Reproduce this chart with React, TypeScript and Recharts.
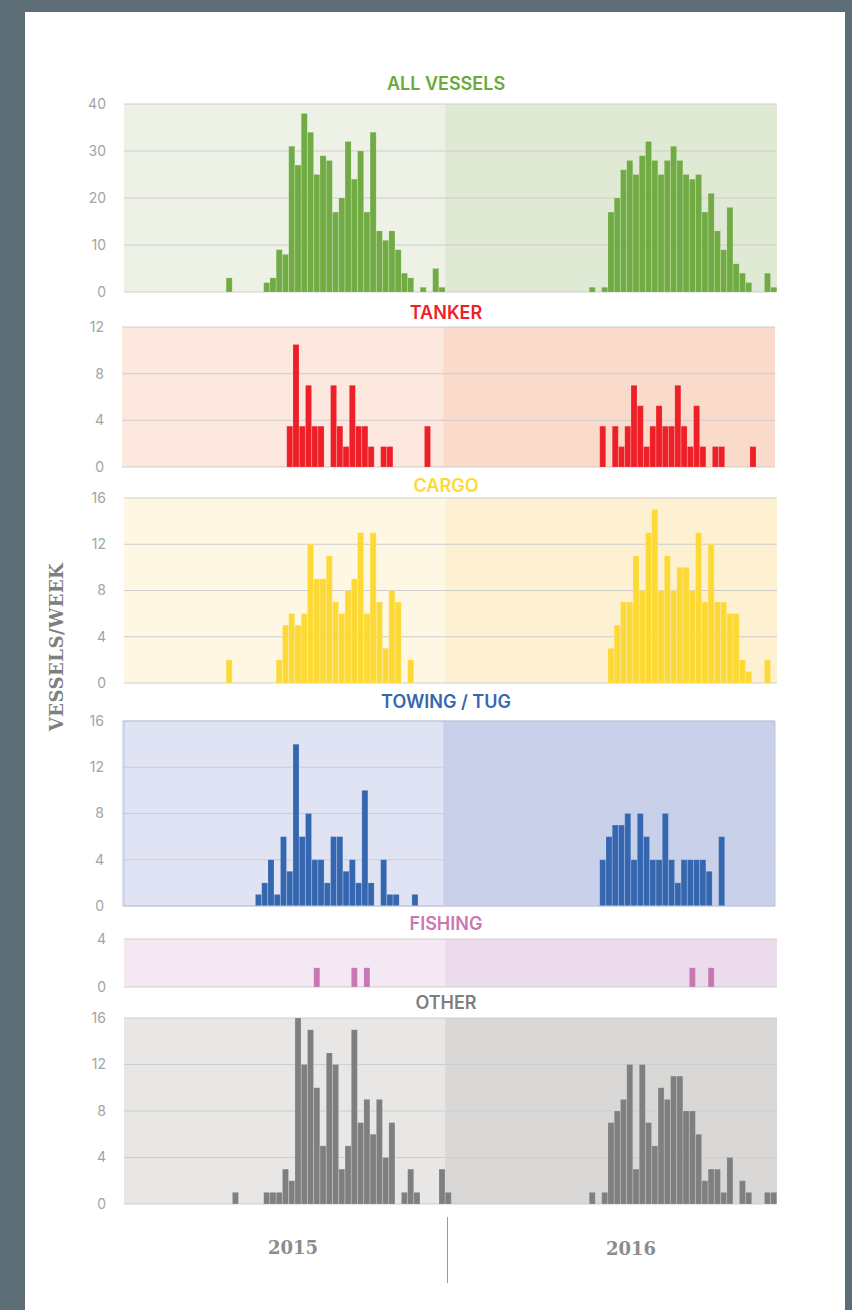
import React from 'react';
import { BarChart, Bar, XAxis, YAxis, CartesianGrid, ReferenceArea } from 'recharts';

// 104 weekly bins: 2015 (weeks 0-51) and 2016 (weeks 52-103)
const WEEKS: number[] = Array.from({ length: 104 }, (_, i) => i);

const ALL_VESSELS = [
  0, 0, 0, 0, 0, 0, 0, 0, 0, 0, 0, 0, 0,
  0, 0, 0, 3, 0, 0, 0, 0, 0, 2, 3, 9, 8,
  31, 27, 38, 34, 25, 29, 28, 17, 20, 32, 24, 30, 17,
  34, 13, 11, 13, 9, 4, 3, 0, 1, 0, 5, 1, 0,
  0, 0, 0, 0, 0, 0, 0, 0, 0, 0, 0, 0, 0,
  0, 0, 0, 0, 0, 0, 0, 0, 0, 1, 0, 1, 17,
  20, 26, 28, 25, 29, 32, 28, 25, 28, 31, 28, 25, 24,
  25, 17, 21, 13, 9, 18, 6, 4, 2, 0, 0, 4, 1,
];

const TANKER = [
  0, 0, 0, 0, 0, 0, 0, 0, 0, 0, 0, 0, 0,
  0, 0, 0, 0, 0, 0, 0, 0, 0, 0, 0, 0, 0,
  3.5, 10.5, 3.5, 7, 3.5, 3.5, 0, 7, 3.5, 1.75, 7, 3.5, 3.5,
  1.75, 0, 1.75, 1.75, 0, 0, 0, 0, 0, 3.5, 0, 0, 0,
  0, 0, 0, 0, 0, 0, 0, 0, 0, 0, 0, 0, 0,
  0, 0, 0, 0, 0, 0, 0, 0, 0, 0, 0, 3.5, 0,
  3.5, 1.75, 3.5, 7, 5.25, 1.75, 3.5, 5.25, 3.5, 3.5, 7, 3.5, 1.75,
  5.25, 1.75, 0, 1.75, 1.75, 0, 0, 0, 0, 1.75, 0, 0, 0,
];

const CARGO = [
  0, 0, 0, 0, 0, 0, 0, 0, 0, 0, 0, 0, 0,
  0, 0, 0, 2, 0, 0, 0, 0, 0, 0, 0, 2, 5,
  6, 5, 6, 12, 9, 9, 11, 7, 6, 8, 9, 13, 6,
  13, 7, 3, 8, 7, 0, 2, 0, 0, 0, 0, 0, 0,
  0, 0, 0, 0, 0, 0, 0, 0, 0, 0, 0, 0, 0,
  0, 0, 0, 0, 0, 0, 0, 0, 0, 0, 0, 0, 3,
  5, 7, 7, 11, 8, 13, 15, 8, 11, 8, 10, 10, 8,
  13, 7, 12, 7, 7, 6, 6, 2, 1, 0, 0, 2, 0,
];

const TOWING = [
  0, 0, 0, 0, 0, 0, 0, 0, 0, 0, 0, 0, 0,
  0, 0, 0, 0, 0, 0, 0, 0, 1, 2, 4, 1, 6,
  3, 14, 6, 8, 4, 4, 2, 6, 6, 3, 4, 2, 10,
  2, 0, 4, 1, 1, 0, 0, 1, 0, 0, 0, 0, 0,
  0, 0, 0, 0, 0, 0, 0, 0, 0, 0, 0, 0, 0,
  0, 0, 0, 0, 0, 0, 0, 0, 0, 0, 0, 4, 6,
  7, 7, 8, 4, 8, 6, 4, 4, 8, 4, 2, 4, 4,
  4, 4, 3, 0, 6, 0, 0, 0, 0, 0, 0, 0, 0,
];

const FISHING = [
  0, 0, 0, 0, 0, 0, 0, 0, 0, 0, 0, 0, 0,
  0, 0, 0, 0, 0, 0, 0, 0, 0, 0, 0, 0, 0,
  0, 0, 0, 0, 1.6, 0, 0, 0, 0, 0, 1.6, 0, 1.6,
  0, 0, 0, 0, 0, 0, 0, 0, 0, 0, 0, 0, 0,
  0, 0, 0, 0, 0, 0, 0, 0, 0, 0, 0, 0, 0,
  0, 0, 0, 0, 0, 0, 0, 0, 0, 0, 0, 0, 0,
  0, 0, 0, 0, 0, 0, 0, 0, 0, 0, 0, 0, 1.6,
  0, 0, 1.6, 0, 0, 0, 0, 0, 0, 0, 0, 0, 0,
];

const OTHER = [
  0, 0, 0, 0, 0, 0, 0, 0, 0, 0, 0, 0, 0,
  0, 0, 0, 0, 1, 0, 0, 0, 0, 1, 1, 1, 3,
  2, 16, 12, 15, 10, 5, 13, 12, 3, 5, 15, 7, 9,
  6, 9, 4, 7, 0, 1, 3, 1, 0, 0, 0, 3, 1,
  0, 0, 0, 0, 0, 0, 0, 0, 0, 0, 0, 0, 0,
  0, 0, 0, 0, 0, 0, 0, 0, 0, 1, 0, 1, 7,
  8, 9, 12, 3, 12, 7, 5, 10, 9, 11, 11, 8, 8,
  6, 2, 3, 3, 1, 4, 0, 2, 1, 0, 0, 1, 1,
];

const TITLES = ['ALL VESSELS', 'TANKER', 'CARGO', 'TOWING / TUG', 'FISHING', 'OTHER'];
const TICKS_ALL = [0, 10, 20, 30, 40];
const TICKS_TANKER = [0, 4, 8, 12];
const TICKS_16 = [0, 4, 8, 12, 16];
const TICKS_FISHING = [0, 4];
const YEARS = ['2015', '2016'];
const Y_TITLE = 'VESSELS/WEEK';
const SECOND_YEAR_START = 51;

const PAD = 10;
const SANS = 'Inter, "Open Sans", sans-serif';
const SLAB = '"DejaVu Serif", serif';

type PanelProps = {
  title: string;
  titleY: number;
  values: number[];
  ticks: number[];
  color: string;
  titleColor: string;
  bgLeft: string;
  bgRight: string;
  plotTop: number;
  plotHeight: number;
  shiftX: number;
  border?: string;
};

function Panel(p: PanelProps) {
  const rows = WEEKS.map((w, i) => ({ week: w, value: p.values[i] }));
  const h = p.plotHeight + 2 * PAD;
  const max = p.ticks[p.ticks.length - 1];
  return (
    <>
      <div
        style={{
          position: 'absolute',
          left: 346,
          width: 200,
          top: p.titleY - 12,
          height: 24,
          lineHeight: '24px',
          textAlign: 'center',
          fontFamily: SANS,
          fontWeight: 600,
          fontSize: 18,
          color: p.titleColor,
        }}
      >
        {p.title}
      </div>
      <div style={{ position: 'absolute', left: p.shiftX, top: p.plotTop - PAD, width: 852, height: h }}>
        <BarChart
          width={852}
          height={h}
          data={rows}
          margin={{ top: PAD, right: 75, bottom: PAD, left: 0 }}
          barCategoryGap={0}
          barGap={0}
        >
          <CartesianGrid horizontal={false} vertical={false} fill={p.bgLeft} fillOpacity={1} zIndex={-300} />
          <ReferenceArea
            x1={SECOND_YEAR_START}
            x2={WEEKS[WEEKS.length - 1]}
            fill={p.bgRight}
            fillOpacity={1}
            stroke="none"
            zIndex={-200}
          />
          <CartesianGrid vertical={false} stroke="#cdcdcd" strokeWidth={1} zIndex={-100} />
          <XAxis dataKey="week" hide padding={{ left: 2, right: 0 }} />
          <YAxis
            domain={[0, max]}
            ticks={p.ticks}
            interval={0}
            width={124}
            axisLine={false}
            tickLine={false}
            tickMargin={12}
            tick={{ fill: '#a3a3a3', fontSize: 14, fontFamily: SANS }}
          />
          <Bar
            dataKey="value"
            fill={p.color}
            stroke="#ffffff"
            strokeOpacity={0.16}
            strokeWidth={0.8}
            isAnimationActive={false}
          />
          {p.border ? (
            <ReferenceArea
              x1={WEEKS[0]}
              x2={WEEKS[WEEKS.length - 1]}
              fill="none"
              stroke={p.border}
              strokeWidth={1}
              zIndex={500}
            />
          ) : null}
        </BarChart>
      </div>
    </>
  );
}

export default function App() {
  return (
    <div style={{ position: 'absolute', left: 0, top: 0, width: 852, height: 1310, background: '#5d6d75', overflow: 'hidden' }}>
      <div style={{ position: 'absolute', left: 25, top: 12, width: 820, height: 1310, background: '#ffffff' }} />

      <Panel title={TITLES[0]} titleY={84} values={ALL_VESSELS} ticks={TICKS_ALL} color="#70ab43" titleColor="#6aaa3b"
        bgLeft="#eef1e5" bgRight="#e0e9d4" plotTop={104} plotHeight={188} shiftX={0} />
      <Panel title={TITLES[1]} titleY={313} values={TANKER} ticks={TICKS_TANKER} color="#ee1f26" titleColor="#ee1f26"
        bgLeft="#fce8de" bgRight="#fadbcb" plotTop={327} plotHeight={140} shiftX={-2} />
      <Panel title={TITLES[2]} titleY={486} values={CARGO} ticks={TICKS_16} color="#fdd935" titleColor="#fdd935"
        bgLeft="#fef7e3" bgRight="#fef1d1" plotTop={498} plotHeight={185} shiftX={0} />
      <Panel title={TITLES[3]} titleY={702} values={TOWING} ticks={TICKS_16} color="#3567b1" titleColor="#3567b1"
        bgLeft="#e0e3f3" bgRight="#c9d1ea" plotTop={721} plotHeight={185} shiftX={-2} border="#bcc3dc" />
      <Panel title={TITLES[4]} titleY={924} values={FISHING} ticks={TICKS_FISHING} color="#c977b3" titleColor="#c977b3"
        bgLeft="#f4e8f2" bgRight="#ecdbeb" plotTop={939} plotHeight={48} shiftX={0} />
      <Panel title={TITLES[5]} titleY={1003} values={OTHER} ticks={TICKS_16} color="#7f7f7f" titleColor="#7f7f7f"
        bgLeft="#e8e7e6" bgRight="#d9d8d7" plotTop={1018} plotHeight={186} shiftX={0} />

      <div
        style={{
          position: 'absolute',
          left: 57 - 150,
          top: 647 - 12,
          width: 300,
          height: 24,
          lineHeight: '24px',
          textAlign: 'center',
          transform: 'rotate(-90deg)',
          fontFamily: SLAB,
          fontWeight: 700,
          fontSize: 18,
          color: '#7f7f7f',
          letterSpacing: 0.5,
        }}
      >
        {Y_TITLE}
      </div>

      <div style={{ position: 'absolute', left: 447, top: 1217, width: 1, height: 66, background: '#9a9a9a' }} />
      {YEARS.map((y, i) => (
        <div
          key={y}
          style={{
            position: 'absolute',
            left: (i === 0 ? 293 : 631) - 60,
            width: 120,
            top: (i === 0 ? 1248 : 1249) - 12,
            height: 24,
            lineHeight: '24px',
            textAlign: 'center',
            fontFamily: SLAB,
            fontWeight: 700,
            fontSize: 18,
            color: '#8c8c8c',
          }}
        >
          {y}
        </div>
      ))}
    </div>
  );
}
